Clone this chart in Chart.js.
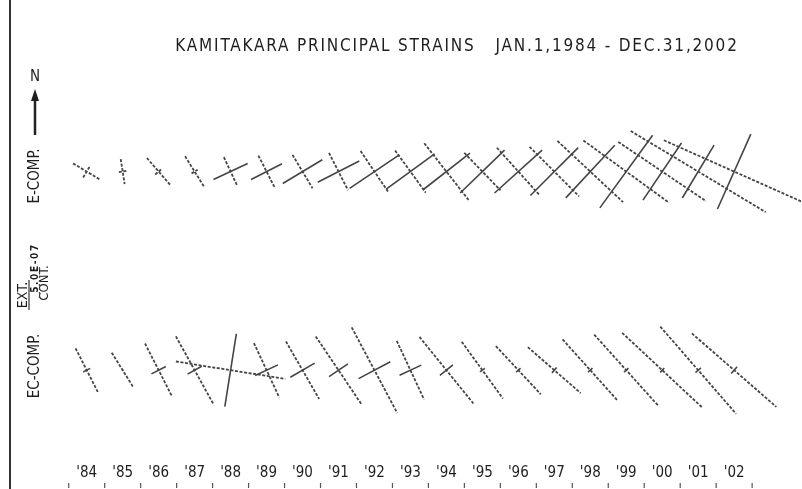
<!DOCTYPE html>
<html>
<head>
<meta charset="utf-8">
<script src="https://cdn.jsdelivr.net/npm/chart.js@4/dist/chart.umd.min.js"></script>
<style>
  html, body { margin: 0; padding: 0; background: #fff; }
  canvas { display: block; }
</style>
</head>
<body>
<canvas id="strainChart" width="802" height="489"></canvas>
<script>
// ---- data (strains in units of 1E-07, + = extension, - = contraction) ----
const YEARS = [1984, 1985, 1986, 1987, 1988, 1989, 1990, 1991, 1992, 1993,
               1994, 1995, 1996, 1997, 1998, 1999, 2000, 2001, 2002];
const YEAR_LABELS = ["'84", "'85", "'86", "'87", "'88", "'89", "'90", "'91", "'92", "'93",
                     "'94", "'95", "'96", "'97", "'98", "'99", "'00", "'01", "'02"];

// E-COMP. : azimuth of e1 axis (deg, clockwise from N), e1, e2 (e2 is at azimuth + 90)
const E_AZ = [31, 81, 49, 58, 65, 63, 59, 63, 56, 54, 52, 46, 48, 45, 43, 36, 34, 31, 24];
const E_E1 = [-2.3, -1.3, -1.5, -1.2, 6.3, 5.8, 7.7, 7.8, 10.0, 10.0,
              10.0, 10.3, 10.7, 11.3, 12.0, 15.0, 11.5, 10.3, 13.7];
const E_E2 = [-5.3, -4.2, -6.0, -6.0, -5.3, -6.0, -6.5, -7.0, -8.3, -8.7,
              -12.0, -8.7, -10.7, -11.7, -15.0, -17.7, -17.7, -26.3, -25.7];

// EC-COMP.
const EC_AZ = [63, 58, 63, 61, 9, 65, 60, 56, 62, 65, 51, 54, 47, 41, 48, 48, 43, 49, 41];
const EC_E1 = [1.3, 0.3, 2.7, 2.7, 12.3, 4.2, 4.7, 3.8, 6.0, 4.0,
               2.8, 1.0, 1.0, 1.2, 1.0, 1.0, 1.0, 1.2, 1.5];
const EC_E2 = [-8.2, -6.9, -10.0, -12.9, -18.5, -10.0, -11.1, -13.6, -16.2, -10.8,
               -14.3, -11.7, -11.0, -11.7, -13.8, -16.0, -18.3, -19.3, -18.7];

const LEGEND_STRAIN = 5.0; // 5.0E-07

// ---- layout ----
const YEAR_PX = 36.05;       // pixels between years
const FIRST_YEAR_PX = 86;    // pixel x of 1984
const ROW_E_PX = 171;        // pixel y of E-COMP row
const ROW_EC_PX = 370;       // pixel y of EC-COMP row
const ROW_E = 0;
const ROW_EC = -(ROW_EC_PX - ROW_E_PX) / YEAR_PX;
const HALF_PER_UNIT = 3 / YEAR_PX; // half arm length (in year widths) per 1E-07

const FONT = "'DejaVu Sans Condensed', 'Liberation Sans Narrow', 'DejaVu Sans', sans-serif";
const INK = '#454545';
const TEXT = '#1e1e1e';

// build cross arms; sign > 0 -> extension arms, sign < 0 -> contraction arms
function arms(rowY, az, e1, e2, sign) {
    const pts = [];
    YEARS.forEach((yr, i) => {
        [[az[i], e1[i]], [az[i] + 90, e2[i]]].forEach(([a, m]) => {
            if (m * sign <= 0) return;
            const h = Math.abs(m) * HALF_PER_UNIT;
            const r = a * Math.PI / 180;
            const dx = h * Math.sin(r), dy = h * Math.cos(r);
            pts.push({ x: yr - dx, y: rowY - dy });
            pts.push({ x: yr + dx, y: rowY + dy });
            pts.push({ x: null, y: null });
        });
    });
    return pts;
}

function lineSet(label, data, dashed) {
    return {
        label, data,
        showLine: true,
        spanGaps: false,
        borderColor: INK,
        borderWidth: dashed ? 1.8 : 1.6,
        borderDash: dashed ? [3, 1.6] : [],
        pointRadius: 0,
        tension: 0
    };
}

/* ===============================
   decorations: frame, title, labels
================================*/
const decorations = {
    id: 'decorations',
    afterDraw(chart) {
        const ctx = chart.ctx;
        const xs = chart.scales.x;
        ctx.save();

        // left frame line
        ctx.strokeStyle = '#333';
        ctx.lineWidth = 2;
        ctx.beginPath();
        ctx.moveTo(10, 0);
        ctx.lineTo(10, chart.height);
        ctx.stroke();

        // title
        ctx.fillStyle = TEXT;
        ctx.textAlign = 'center';
        ctx.textBaseline = 'middle';
        ctx.font = '17px ' + FONT;
        ctx.letterSpacing = '1.8px';
        ctx.fillText('KAMITAKARA PRINCIPAL STRAINS   JAN.1,1984 - DEC.31,2002', 457, 47);
        ctx.letterSpacing = '0px';

        // north arrow
        ctx.font = '15px ' + FONT;
        ctx.fillText('N', 35, 77);
        ctx.strokeStyle = '#222';
        ctx.lineWidth = 2.5;
        ctx.beginPath();
        ctx.moveTo(35, 135);
        ctx.lineTo(35, 98);
        ctx.stroke();
        ctx.beginPath();
        ctx.moveTo(35, 89);
        ctx.lineTo(31, 101);
        ctx.lineTo(39, 101);
        ctx.closePath();
        ctx.fill();

        // rotated row labels
        const vtext = (txt, x, y, font, spacing) => {
            ctx.save();
            ctx.translate(x, y);
            ctx.rotate(-Math.PI / 2);
            ctx.font = font;
            ctx.letterSpacing = spacing || '0px';
            ctx.fillText(txt, 0, 0);
            ctx.restore();
        };
        vtext('E-COMP.', 35, 176, '15px ' + FONT);
        vtext('EC-COMP.', 35, 366, '15px ' + FONT);

        // scale legend
        const barLen = xs.getPixelForValue(YEARS[0] + 2 * LEGEND_STRAIN * HALF_PER_UNIT) - xs.getPixelForValue(YEARS[0]);
        vtext('EXT.', 23, 295, '14px ' + FONT);
        vtext('5.0E-07', 35, 268, 'bold 10px ' + FONT, '1.6px');
        vtext('CONT.', 45, 283, '13px ' + FONT);
        ctx.strokeStyle = INK;
        ctx.lineWidth = 1.3;
        ctx.beginPath();
        ctx.moveTo(29, 295 + barLen / 2);
        ctx.lineTo(29, 295 - barLen / 2);
        ctx.stroke();
        ctx.setLineDash([2, 2]);
        ctx.beginPath();
        ctx.moveTo(39.5, 283 + barLen / 2);
        ctx.lineTo(39.5, 283 - barLen / 2);
        ctx.stroke();
        ctx.setLineDash([]);

        // small year-boundary marks along the bottom
        ctx.strokeStyle = '#555';
        ctx.lineWidth = 1.2;
        YEARS.concat([YEARS[YEARS.length - 1] + 1]).forEach(yr => {
            const px = xs.getPixelForValue(yr - 0.5);
            ctx.beginPath();
            ctx.moveTo(px, chart.height - 6);
            ctx.lineTo(px, chart.height - 1);
            ctx.stroke();
        });
        ctx.restore();
    }
};

const chart = new Chart(document.getElementById('strainChart'), {
    type: 'scatter',
    data: {
        datasets: [
            lineSet('E-COMP. ext', arms(ROW_E, E_AZ, E_E1, E_E2, 1), false),
            lineSet('E-COMP. cont', arms(ROW_E, E_AZ, E_E1, E_E2, -1), true),
            lineSet('EC-COMP. ext', arms(ROW_EC, EC_AZ, EC_E1, EC_E2, 1), false),
            lineSet('EC-COMP. cont', arms(ROW_EC, EC_AZ, EC_E1, EC_E2, -1), true)
        ]
    },
    options: {
        responsive: false,
        animation: false,
        events: [],
        layout: { padding: { left: 0, right: 0, top: 0, bottom: 3 } },
        plugins: {
            legend: { display: false },
            tooltip: { enabled: false },
            title: { display: false }
        },
        scales: {
            x: {
                type: 'linear',
                position: 'bottom',
                min: 1981, max: 2004,
                grid: { display: false, drawTicks: false },
                border: { display: false },
                afterBuildTicks: s => { s.ticks = YEARS.map(v => ({ value: v })); },
                ticks: {
                    autoSkip: false,
                    maxRotation: 0,
                    padding: 4,
                    color: TEXT,
                    font: { family: FONT, size: 15 },
                    callback: v => YEAR_LABELS[YEARS.indexOf(v)]
                }
            },
            y: { type: 'linear', display: false, min: -10, max: 5 }
        }
    },
    plugins: [decorations]
});

// make both axes share the same pixels-per-unit so the crosses keep their angles
const area = chart.chartArea;
chart.options.scales.x.min = YEARS[0] - (FIRST_YEAR_PX - area.left) / YEAR_PX;
chart.options.scales.x.max = chart.options.scales.x.min + (area.right - area.left) / YEAR_PX;
chart.options.scales.y.max = ROW_E + (ROW_E_PX - area.top) / YEAR_PX;
chart.options.scales.y.min = chart.options.scales.y.max - (area.bottom - area.top) / YEAR_PX;
chart.update('none');
</script>
</body>
</html>
